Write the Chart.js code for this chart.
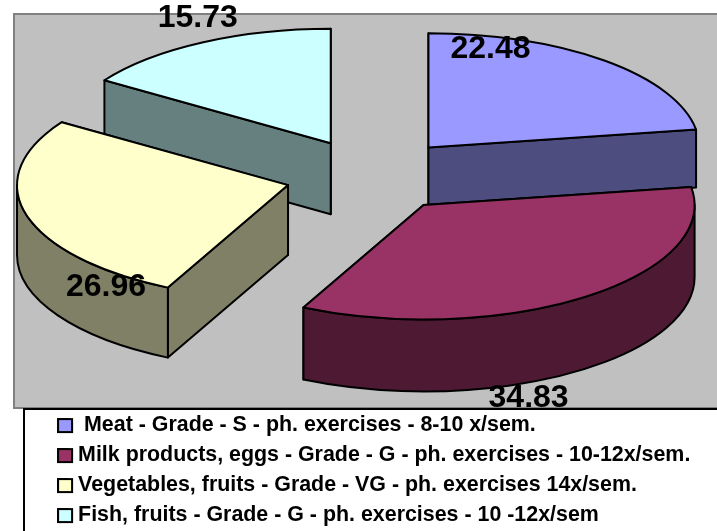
<!DOCTYPE html>
<html>
<head>
<meta charset="utf-8">
<title>Diet and exercise grades</title>
<script src="https://cdn.jsdelivr.net/npm/chart.js@4/dist/chart.umd.min.js"></script>
<style>
  html, body { margin: 0; padding: 0; background: #fff; overflow: hidden; }
  canvas { display: block; }
</style>
</head>
<body>
<canvas id="dietChart" width="717" height="531"></canvas>
<script>
const categories = [
    ' Meat - Grade - S - ph. exercises - 8-10 x/sem.',
    'Milk products, eggs - Grade - G - ph. exercises - 10-12x/sem.',
    'Vegetables, fruits - Grade - VG - ph. exercises 14x/sem.',
    'Fish, fruits - Grade - G - ph. exercises - 10 -12x/sem'
];
const shares = [22.48, 34.83, 26.96, 15.73];
const topColors = ['#9999ff', '#993366', '#ffffcc', '#ccffff'];
const sideColors = ['#4d4d80', '#4d1933', '#808066', '#668080'];

// 3D look: the reference is a tilted, exploded pie
const pieCenter = { x: 372, y: 175.5 };
const tilt = 0.422;
const explode = 87;
const sliceDepth = [58, 72, 70, 71];
// where each value sits, measured from the tip of its slice
const labelShift = [[62, -98], [105, 193], [-182, 102.5], [-133, -125]];

const plotFrame = { left: 14, top: 14, bottom: 408 };
const legendFrame = { left: 24, top: 409 };
const legendFont = 21.4;
const swatchSize = { w: 14, h: 13 };

function topPath(ctx, tip, rx, ry, arc) {
    ctx.beginPath();
    ctx.moveTo(tip.x, tip.y);
    ctx.ellipse(tip.x, tip.y, rx, ry, 0, arc.startAngle, arc.endAngle);
    ctx.closePath();
}

function edgeWall(ctx, tip, rx, ry, angle, depth) {
    const ex = tip.x + rx * Math.cos(angle);
    const ey = tip.y + ry * Math.sin(angle);
    ctx.beginPath();
    ctx.moveTo(tip.x, tip.y);
    ctx.lineTo(ex, ey);
    ctx.lineTo(ex, ey + depth);
    ctx.lineTo(tip.x, tip.y + depth);
    ctx.closePath();
    ctx.fill();
    ctx.stroke();
}

function drawPie(ctx, chart) {
    const arcs = chart.getDatasetMeta(0).data;

    const slices = arcs.map((arc, i) => {
        const mid = (arc.startAngle + arc.endAngle) / 2;
        return {
            arc, i, mid,
            tip: {
                x: pieCenter.x + Math.cos(mid) * explode,
                y: pieCenter.y + Math.sin(mid) * explode * tilt
            }
        };
    });

    // back slices first
    const order = slices.slice().sort((a, b) => Math.sin(a.mid) - Math.sin(b.mid));

    ctx.save();
    ctx.lineWidth = 2;
    ctx.lineJoin = 'round';
    ctx.strokeStyle = '#000';

    order.forEach(s => {
        const { arc, tip, i } = s;
        const rx = arc.outerRadius;
        const ry = rx * tilt;
        const depth = sliceDepth[i];

        ctx.fillStyle = sideColors[i];

        // cut faces, the one further back goes first
        const angles = [arc.startAngle, arc.endAngle].sort((a, b) => Math.sin(a) - Math.sin(b));
        angles.forEach(a => edgeWall(ctx, tip, rx, ry, a, depth));

        // outer rim, only the front half shows
        const from = Math.max(arc.startAngle, 0);
        const to = Math.min(arc.endAngle, Math.PI);
        if (to > from) {
            ctx.beginPath();
            ctx.ellipse(tip.x, tip.y, rx, ry, 0, from, to);
            ctx.ellipse(tip.x, tip.y + depth, rx, ry, 0, to, from, true);
            ctx.closePath();
            ctx.fill();
            ctx.stroke();
        }

        topPath(ctx, tip, rx, ry, arc);
        ctx.fillStyle = topColors[i];
        ctx.fill();
        ctx.stroke();
    });

    // value labels
    ctx.fillStyle = '#000';
    ctx.font = 'bold 32px "Liberation Sans"';
    ctx.textAlign = 'center';
    ctx.textBaseline = 'middle';
    slices.forEach(s => {
        ctx.fillText(shares[s.i].toFixed(2), s.tip.x + labelShift[s.i][0], s.tip.y + labelShift[s.i][1]);
    });
    ctx.restore();
}

// Chart.js has no 3D pie, so the arcs it computes are painted here.
// Done in beforeDraw because the legend has to sit on top of the 34.83 label.
const tiltedPie = {
    id: 'tiltedPie',
    beforeDraw(chart) {
        const ctx = chart.ctx;
        const w = chart.width;
        const h = chart.height;

        ctx.save();
        ctx.fillStyle = '#c0c0c0';
        ctx.strokeStyle = '#808080';
        ctx.lineWidth = 2;
        ctx.fillRect(plotFrame.left, plotFrame.top, w, plotFrame.bottom - plotFrame.top);
        ctx.strokeRect(plotFrame.left, plotFrame.top, w, plotFrame.bottom - plotFrame.top);
        ctx.restore();

        drawPie(ctx, chart);

        ctx.save();
        ctx.fillStyle = '#fff';
        ctx.strokeStyle = '#000';
        ctx.lineWidth = 2;
        ctx.fillRect(legendFrame.left, legendFrame.top, w, h);
        ctx.strokeRect(legendFrame.left, legendFrame.top, w, h);
        ctx.restore();
    },
    beforeDatasetsDraw() {
        return false;
    },
    // the legend ties text gap to box width, so its narrow boxes get widened here
    afterDraw(chart) {
        const ctx = chart.ctx;
        ctx.save();
        ctx.strokeStyle = '#000';
        ctx.lineWidth = 2;
        chart.legend.legendHitBoxes.forEach((hb, i) => {
            const y = hb.top + (legendFont - swatchSize.h) / 2;
            ctx.fillStyle = topColors[i];
            ctx.fillRect(hb.left, y, swatchSize.w, swatchSize.h);
            ctx.strokeRect(hb.left, y, swatchSize.w, swatchSize.h);
        });
        ctx.restore();
    }
};

const chart = new Chart(document.getElementById('dietChart'), {
    type: 'pie',
    data: {
        labels: categories,
        datasets: [{
            data: shares,
            backgroundColor: topColors,
            borderColor: '#000',
            borderWidth: 2
        }]
    },
    options: {
        responsive: false,
        animation: false,
        radius: 271,
        layout: { padding: { left: 49.5, bottom: -5.3 } },
        plugins: {
            tooltip: { enabled: false },
            legend: {
                position: 'bottom',
                align: 'start',
                labels: {
                    color: '#000',
                    boxWidth: 9.3,
                    boxHeight: 13,
                    padding: 8.6,
                    font: { family: '"Liberation Sans"', size: legendFont, weight: 'bold' }
                }
            }
        }
    },
    plugins: [tiltedPie]
});
</script>
</body>
</html>
